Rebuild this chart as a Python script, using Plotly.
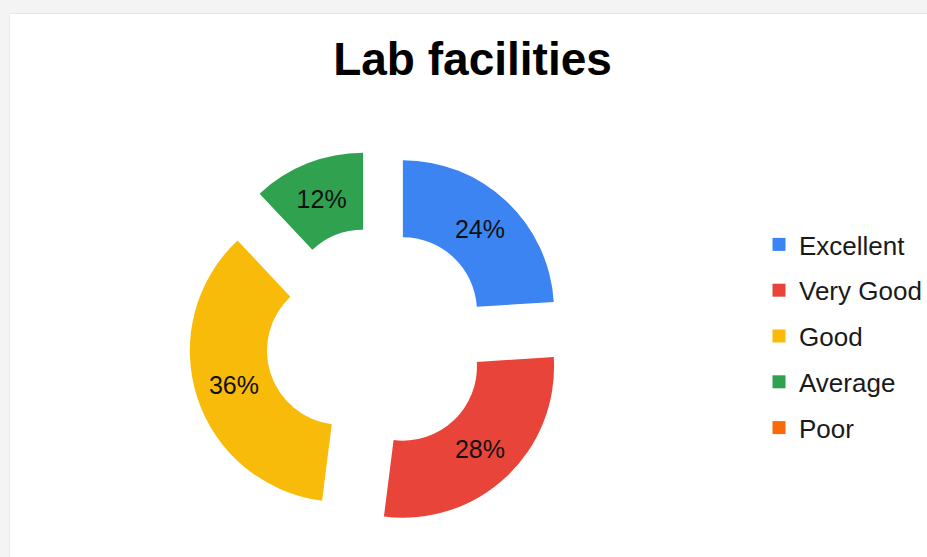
import plotly.graph_objects as go

# Survey results for lab facilities
categories = ["Excellent", "Very Good", "Good", "Average", "Poor"]
shares = [24, 28, 36, 12, 0]
colors = ["#3d84f3", "#e9443a", "#f9bb0a", "#2fa14f", "#fa6a0c"]
label_templates = ["%{percent:.0%}"] * 4 + [""]

W, H = 927, 557

def px_x(x):
    return x / W

def px_y(y):
    return 1 - y / H

fig = go.Figure()

# Exploded doughnut
cx, cy, radius = 377, 339, 189
fig.add_trace(go.Pie(
    labels=categories,
    values=shares,
    sort=False,
    direction="clockwise",
    rotation=0,
    hole=0.49,
    pull=0.25,
    marker=dict(colors=colors, line=dict(width=0)),
    texttemplate=label_templates,
    textposition="inside",
    insidetextorientation="horizontal",
    textfont=dict(family="Liberation Sans, Arial, sans-serif", size=25, color="#111111"),
    domain=dict(x=[px_x(cx - radius), px_x(cx + radius)],
                y=[px_y(cy + radius), px_y(cy - radius)]),
    showlegend=False,
    hoverinfo="label+percent",
))

# Legend entries (one per category, square swatches)
for name, col in zip(categories, colors):
    fig.add_trace(go.Scatter(
        x=[None], y=[None],
        mode="markers",
        name=name,
        legendgroup=name,
        marker=dict(symbol="square", size=13, color=col),
        hoverinfo="skip",
    ))

# Page frame: light gray strips along the top and left edges
shapes = [
    dict(type="rect", xref="paper", yref="paper", x0=0, x1=1, y0=px_y(14), y1=1,
         fillcolor="#f4f4f4", line=dict(width=0), layer="below"),
    dict(type="rect", xref="paper", yref="paper", x0=0, x1=px_x(10), y0=0, y1=1,
         fillcolor="#f4f4f4", line=dict(width=0), layer="below"),
    dict(type="line", xref="paper", yref="paper", x0=px_x(10), x1=1, y0=px_y(13.5), y1=px_y(13.5),
         line=dict(color="#e6e6e6", width=1), layer="below"),
    dict(type="line", xref="paper", yref="paper", x0=px_x(9.5), x1=px_x(9.5), y0=0, y1=px_y(14),
         line=dict(color="#ececec", width=1), layer="below"),
]

fig.update_layout(
    width=W, height=H,
    margin=dict(l=0, r=0, t=0, b=0),
    paper_bgcolor="white",
    plot_bgcolor="white",
    shapes=shapes,
    title=dict(
        text="<b>Lab facilities</b>",
        x=px_x(472.5), xanchor="center",
        y=px_y(59), yanchor="middle",
        font=dict(family="Liberation Sans, Arial, sans-serif", size=46, color="#000000"),
    ),
    xaxis=dict(visible=False, domain=[0.99, 1]),
    yaxis=dict(visible=False, domain=[0.99, 1]),
    legend=dict(
        x=px_x(759), xanchor="left",
        y=px_y(221), yanchor="top",
        traceorder="grouped",
        tracegroupgap=9,
        font=dict(family="Liberation Sans, Arial, sans-serif", size=26, color="#1a1a1a"),
        bgcolor="rgba(0,0,0,0)",
    ),
)

fig.write_html("out.html")
